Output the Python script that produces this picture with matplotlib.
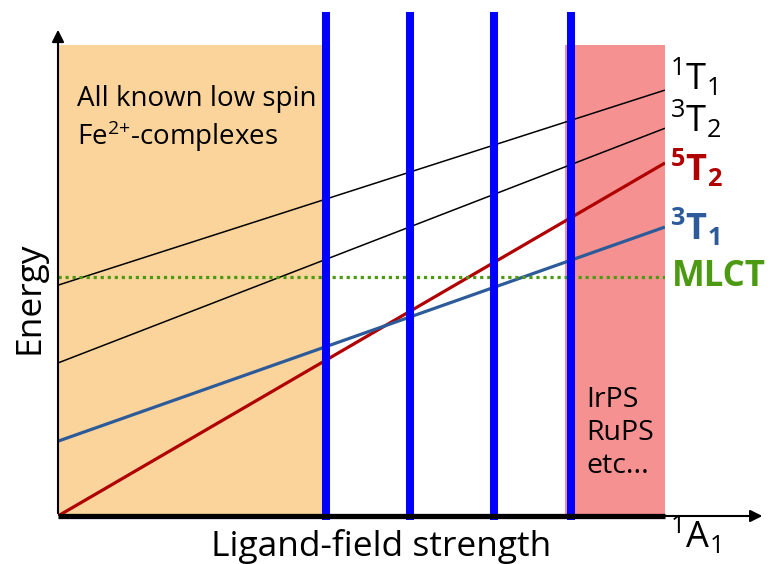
#!/usr/bin/env python
# -*- coding: utf-8 -*-
"""
ligand-field energy diagram for Fe(II) complexes
"""

import matplotlib
matplotlib.use("Agg")
import matplotlib.pyplot as plt

plt.rcParams['font.family'] = ['Open Sans', 'DejaVu Sans']
plt.rcParams['mathtext.fontset'] = 'custom'
plt.rcParams['mathtext.rm'] = 'Open Sans'
plt.rcParams['mathtext.it'] = 'Open Sans'
plt.rcParams['mathtext.bf'] = 'Open Sans:bold'

# states: energy at weak field (x=0) and strong field (x=1)
states = ["1T1", "3T2", "5T2", "3T1"]
e_start = [0.472, 0.313, 0.000, 0.153]
e_end = [0.871, 0.793, 0.722, 0.591]
state_colors = ["black", "black", "#b00000", "#2d5b9a"]
state_widths = [1.1, 1.1, 2.3, 2.3]
state_labels = [r"$\mathrm{^{1}T_{1}}$", r"$\mathrm{^{3}T_{2}}$",
                r"$\mathbf{^{5}T_{2}}$", r"$\mathbf{^{3}T_{1}}$"]
label_y = [0.895, 0.81, 0.71, 0.59]
mlct = 0.489

# shaded regions (x ranges) and the vertical markers
low_spin_region = (0.0, 0.442)
photosens_region = (0.835, 1.0)
region_top = 0.963
markers = [0.442, 0.580, 0.718, 0.845]

fig = plt.figure(figsize=(7.71, 5.64), dpi=100)
ax = fig.add_axes([58 / 771, 48 / 564, 607 / 771, 489 / 564])
ax.set_xlim(0, 1)
ax.set_ylim(0, 1)
ax.axis("off")

# regions
ax.fill_between(low_spin_region, 0, region_top, color="#fbd49c", lw=0, zorder=0)
ax.fill_between(photosens_region, 0, region_top, color="#f59291", lw=0, zorder=0)

# state lines
for s0, s1, c, w in zip(e_start, e_end, state_colors, state_widths):
    ax.plot([0, 1], [s0, s1], color=c, lw=w, zorder=3, solid_capstyle="butt")
for lab, y, c in zip(state_labels, label_y, state_colors):
    ax.text(1.008, y, lab, color=c, fontsize=26, ha="left", va="center")

# MLCT
ax.plot([0, 1], [mlct, mlct], color="#4c9a12", lw=2.3, ls=(0, (1, 1.2)), zorder=3)
ax.text(1.012, mlct, "MLCT", color="#4c9a12", fontsize=25, fontweight="bold",
        ha="left", va="center")

# vertical markers
for m in markers:
    ax.plot([m, m], [-0.008, 1.031], color="#0000ff", lw=5.8, zorder=4,
            clip_on=False, solid_capstyle="butt")

# axes
ax.annotate("", xy=(0, 1.0), xytext=(0, 0),
            arrowprops=dict(arrowstyle="-|>", color="black", lw=1.5,
                            mutation_scale=18), zorder=5)
ax.annotate("", xy=(1.165, 0), xytext=(0.99, 0), annotation_clip=False,
            arrowprops=dict(arrowstyle="-|>", color="black", lw=1.5,
                            mutation_scale=18), zorder=5)
ax.plot([0, 1], [0, 0], color="black", lw=3.8, zorder=5, clip_on=False,
        solid_capstyle="butt")
ax.text(1.008, -0.04, r"$\mathrm{^{1}A_{1}}$", fontsize=26, ha="left",
        va="center")

# texts
ax.text(0.031, 0.852, "All known low spin", fontsize=20, ha="left",
        va="center")
ax.text(0.031, 0.776, r"Fe$^{2{+}}$-complexes", fontsize=20, ha="left",
        va="center")
ax.text(0.87, 0.17, "IrPS\nRuPS\netc...", fontsize=20.5, ha="left",
        va="center", linespacing=1.25)
fig.text(381 / 771, 18 / 564, "Ligand-field strength", fontsize=25.5,
         ha="center", va="center")
fig.text(30 / 771, 266 / 564, "Energy", fontsize=25.5, rotation=90,
         ha="center", va="center")

fig.savefig("out.png", dpi=100)
